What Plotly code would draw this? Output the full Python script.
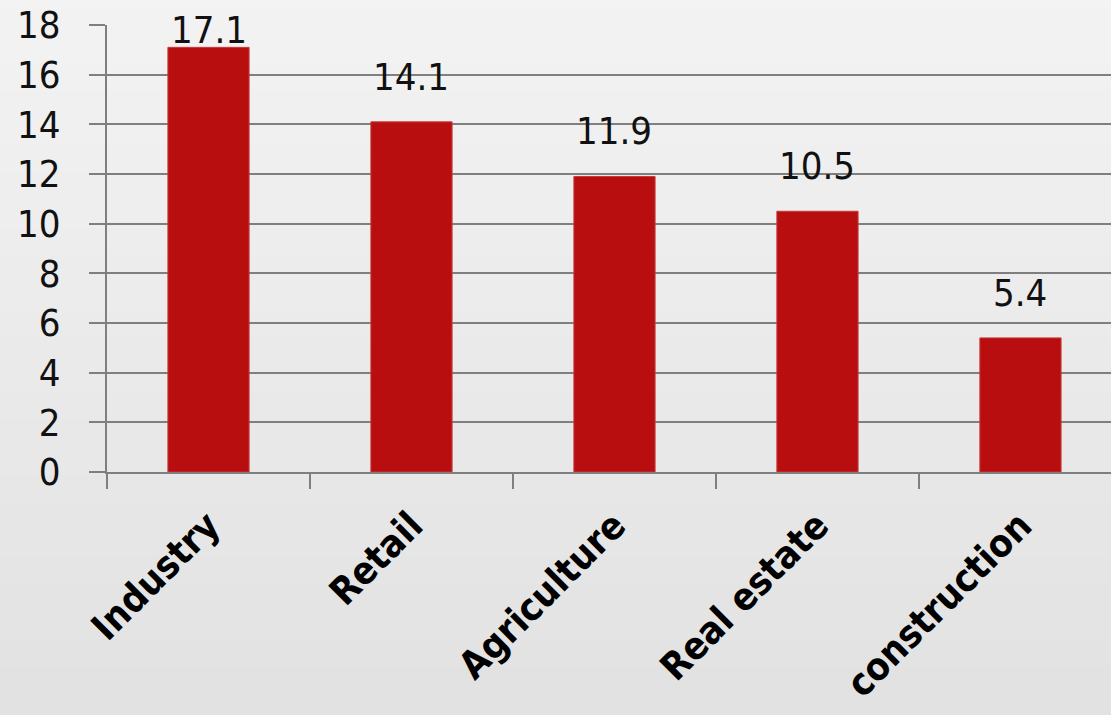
import plotly.graph_objects as go

categories = ["Industry", "Retail", "Agriculture", "Real estate", "construction"]
values = [17.1, 14.1, 11.9, 10.5, 5.4]
y_ticks = [0, 2, 4, 6, 8, 10, 12, 14, 16, 18]

NUM_FONT = "DejaVu Sans Condensed, DejaVu Sans"
CAT_FONT = "DejaVu Sans Condensed, DejaVu Sans"

fig = go.Figure()
fig.add_trace(go.Bar(
    x=categories, y=values, width=0.40,
    marker=dict(color="#b80e10", line=dict(color="#c83a3a", width=1)),
    hoverinfo="x+y",
))

# value labels above bars (kept inside the top of the plot area)
for c, v in zip(categories, values):
    fig.add_annotation(
        x=c, y=min(v + 0.85, 16.85), text=f"{v:.1f}", showarrow=False,
        yanchor="bottom", xanchor="center",
        font=dict(family=NUM_FONT, size=38, color="#111111", weight=300),
    )

# subtle vertical background gradient
shapes = []
n = 28
top, bottom = 1.1, -0.62
step = (top - bottom) / n
for i in range(n):
    t = i / (n - 1)
    g = int(round(243 - (243 - 225) * t))
    shapes.append(dict(
        type="rect", xref="paper", yref="paper", layer="below",
        x0=-0.2, x1=1.2, y0=top - (i + 1) * step - 0.002, y1=top - i * step,
        fillcolor=f"rgb({g},{g},{g})", line=dict(width=0),
    ))

fig.update_layout(
    width=1111, height=715,
    margin=dict(l=107, r=0, t=25, b=243),
    paper_bgcolor="#e6e6e6", plot_bgcolor="rgba(0,0,0,0)",
    showlegend=False, shapes=shapes,
)
fig.update_xaxes(
    range=[-0.5, 4.446], tickson="boundaries", ticks="outside", ticklen=15,
    tickcolor="#7f7f7f", tickwidth=2, showgrid=False,
    showline=True, linecolor="#7f7f7f", linewidth=2,
    tickangle=-45,
    tickfont=dict(family=CAT_FONT, size=38, color="#000000", weight="bold"),
    ticklabelstandoff=14,
)
fig.update_yaxes(
    range=[0, 18], tickvals=y_ticks, ticks="outside", ticklen=16,
    tickcolor="#7f7f7f", tickwidth=2,
    showgrid=True, gridcolor="#7f7f7f", gridwidth=2,
    showline=True, linecolor="#7f7f7f", linewidth=2, zeroline=False,
    tickfont=dict(family=NUM_FONT, size=38, color="#111111", weight=300),
    ticklabelstandoff=21,
)

fig.write_html("out.html")
